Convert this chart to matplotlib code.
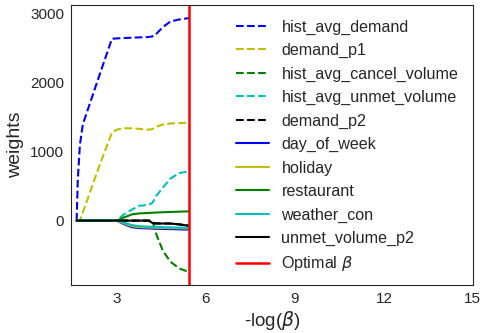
import matplotlib
matplotlib.use('Agg')
import matplotlib.pyplot as plt
import seaborn as sns
import numpy as np

# -log(beta) grid along the lasso path
neg_log_beta = [1.64, 1.68, 1.75, 1.85, 2.0, 2.4, 2.83, 3.0, 3.2, 3.5, 3.75,
                4.07, 4.2, 4.3, 4.55, 4.8, 5.1, 5.43]

hist_avg_demand = [0, 600, 1100, 1400, 1590, 2100, 2640, 2645, 2650, 2655, 2660,
                   2665, 2675, 2700, 2810, 2890, 2920, 2940]
demand_p1 = [0, 0, 0, 120, 300, 790, 1280, 1320, 1340, 1340, 1332,
             1320, 1330, 1360, 1395, 1410, 1415, 1420]
hist_avg_cancel_volume = [0, 0, 0, 0, 0, 0, 0, 0, 0, 0, 0,
                          0, 0, -170, -440, -595, -695, -745]
hist_avg_unmet_volume = [0, 0, 0, 0, 0, 0, 0, 0, 80, 160, 215,
                         230, 260, 345, 480, 610, 690, 715]
demand_p2 = [0, 0, 0, 0, 0, 0, 0, 0, 0, 0, 0,
             0, -33, -40, -41, -42, -54, -73]
day_of_week = [0, 0, 0, 0, 0, 0, 0, 0, -45, -95, -108,
               -113, -115, -117, -120, -123, -127, -130]
holiday = [0, 0, 0, 0, 0, 0, 0, 0, -35, -80, -95,
           -100, -102, -104, -106, -109, -112, -115]
restaurant = [0, 0, 0, 0, 0, 0, 0, 0, 40, 90, 105,
              112, 115, 117, 122, 126, 130, 135]
weather_con = [0, 0, 0, 0, 0, 0, 0, 0, -25, -65, -80,
               -88, -90, -92, -95, -98, -101, -105]
unmet_volume_p2 = [0, 0, 0, 0, 0, 0, 0, 0, 0, 0, 0,
                   0, -35, -42, -42, -42, -55, -75]

optimal = 5.43

dashed = [('hist_avg_demand', hist_avg_demand), ('demand_p1', demand_p1),
          ('hist_avg_cancel_volume', hist_avg_cancel_volume),
          ('hist_avg_unmet_volume', hist_avg_unmet_volume), ('demand_p2', demand_p2)]
solid = [('day_of_week', day_of_week), ('holiday', holiday), ('restaurant', restaurant),
         ('weather_con', weather_con), ('unmet_volume_p2', unmet_volume_p2)]
colors = ['b', 'y', 'g', 'c', 'k']

sns.set_style('white')
plt.rcParams['font.family'] = ['Liberation Sans', 'DejaVu Sans']

fig = plt.figure(figsize=(4.83, 3.33), dpi=100)
ax = fig.add_axes([0.147, 0.144, 0.832, 0.841])

for (name, vals), c in zip(dashed, colors):
    ax.plot(neg_log_beta, vals, '--', color=c, lw=1.5, label=name)
for (name, vals), c in zip(solid, colors):
    ax.plot(neg_log_beta, vals, '-', color=c, lw=1.5, label=name)
ax.axvline(optimal, color='r', lw=1.8, label=r'Optimal $\beta$')

ax.set_xlim(1.45, 15)
ax.set_ylim(-935, 3130)
ax.set_xticks([3, 6, 9, 12, 15])
ax.set_yticks([0, 1000, 2000, 3000])
ax.tick_params(labelsize=11, length=0, pad=5)
ax.set_xlabel(r'-log($\beta$)', fontsize=13.5, labelpad=2)
ax.set_ylabel('weights', fontsize=14, labelpad=4)
ax.legend(loc='upper right', fontsize=11.6, frameon=False, labelspacing=0.52)

fig.savefig('out.png', dpi=100)
